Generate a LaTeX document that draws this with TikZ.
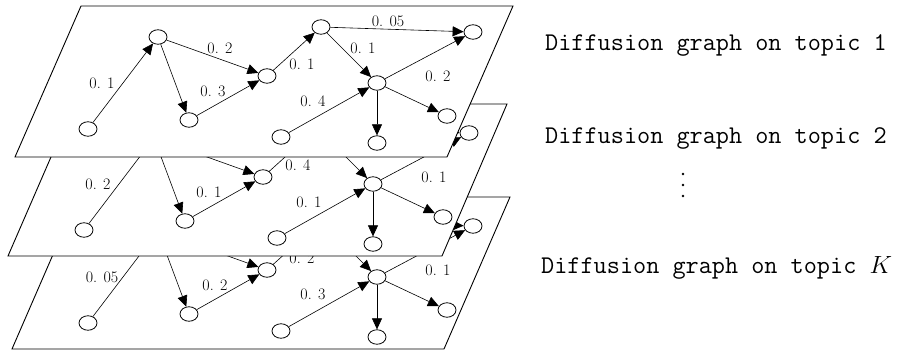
\documentclass[tikz,border=0pt]{standalone}
\usepackage{fontspec}
\usetikzlibrary{arrows.meta,shapes.geometric}
\tikzset{
 vtx/.style={draw, ellipse, fill=white, minimum width=18pt, minimum height=14.5pt, inner sep=0pt, line width=0.8pt},
 arr/.style={-{Triangle[length=11pt,width=10pt]}, line width=0.6pt},
 plane/.style={draw, fill=white, line width=0.9pt},
 wt/.style={font=\fontsize{16}{18}\selectfont, inner sep=0pt},
 caption/.style={font=\ttfamily\fontsize{25.5}{30}\selectfont, inner sep=0pt, anchor=base west},
}
\newcommand\layergraph[1]{%
 \node[vtx] (#1A) at (88,129) {};
 \node[vtx] (#1B) at (158,37) {};
 \node[vtx] (#1C) at (189,120) {};
 \node[vtx] (#1D) at (267,76) {};
 \node[vtx] (#1E) at (321,27) {};
 \node[vtx] (#1F) at (473,32) {};
 \node[vtx] (#1G) at (377,83) {};
 \node[vtx] (#1H) at (447,116) {};
 \node[vtx] (#1I) at (377,143) {};
 \node[vtx] (#1J) at (281,137) {};
 \draw[arr] (#1A) -- (#1B);
 \draw[arr] (#1B) -- (#1D);
 \draw[arr] (#1B) -- (#1C);
 \draw[arr] (#1C) -- (#1D);
 \draw[arr] (#1D) -- (#1E);
 \draw[arr] (#1E) -- (#1F);
 \draw[arr] (#1E) -- (#1G);
 \draw[arr] (#1G) -- (#1F);
 \draw[arr] (#1J) -- (#1G);
 \draw[arr] (#1G) -- (#1H);
 \draw[arr] (#1G) -- (#1I);
}
\begin{document}
\begin{tikzpicture}[x=1pt,y=-1pt]
\useasboundingbox (0,0) rectangle (897,350);
% bottom layer
\path[plane] (78,197) -- (510,197) -- (444,349) -- (12,349) -- cycle;
\begin{scope}[shift={(0,194)}]
 \layergraph{b}
 \node[wt] (bl1) at (102,83) {0. 05};
 \node[wt] (bl2) at (215,91) {0. 2};
 \node[wt] (bl3) at (302,64) {0. 2};
 \node[wt] (bl4) at (438,76) {0. 1};
 \node[wt] (bl5) at (313,100) {0. 3};
\end{scope}
% middle layer
\path[plane] (74,104) -- (507,104) -- (442,256) -- (8,256) -- cycle;
\begin{scope}[shift={(-4,101)}]
 \layergraph{m}
 \node[wt] (ml1) at (102,83) {0. 2};
 \node[wt] (ml2) at (213,91) {0. 1};
 \node[wt] (ml3) at (302,64) {0. 4};
 \node[wt] (ml4) at (438,76) {0. 1};
 \node[wt] (ml5) at (313,101) {0. 1};
\end{scope}
% top layer
\path[plane] (81,6) -- (513,6) -- (447,157) -- (15,157) -- cycle;
\layergraph{t}
\node[wt] (tl1) at (102,83) {0. 1};
\node[wt] (tl2) at (220,48) {0. 2};
\node[wt] (tl3) at (213,91) {0. 3};
\node[wt] (tl4) at (302,64) {0. 1};
\node[wt] (tl5) at (388,21) {0. 05};
\node[wt] (tl6) at (363,48) {0. 1};
\node[wt] (tl7) at (438,76) {0. 2};
\node[wt] (tl8) at (313,101) {0. 4};
% captions
\node[caption] (c1) at (545,51) {Diffusion graph on topic 1};
\node[caption] (c2) at (545,143) {Diffusion graph on topic 2};
\node[caption] (c3) at (541,273) {Diffusion graph on topic $K$};
\foreach \yy in {174,185,196} \fill (683,\yy) circle (1.4pt);
\end{tikzpicture}
\end{document}
